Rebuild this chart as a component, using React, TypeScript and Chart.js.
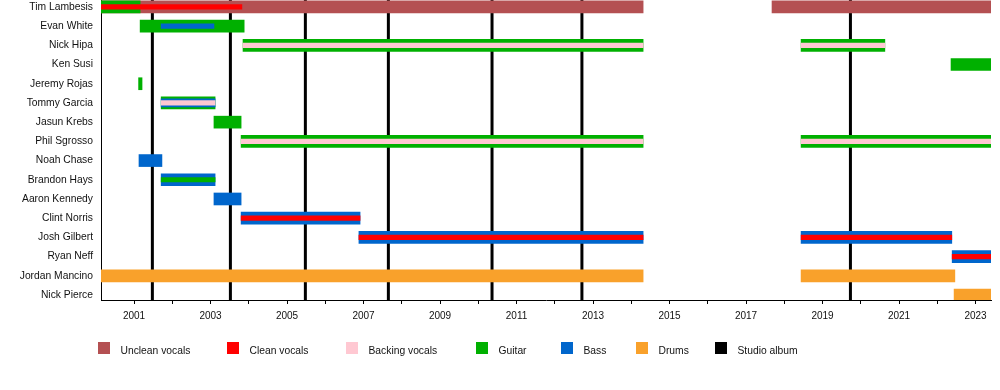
import React, { useEffect, useRef } from "react";
import { Chart, registerables } from "chart.js";

Chart.register(...registerables);

// ---------------- data ----------------
const START = 2000.137;
const END = 2023.405;

const members = [
  "Tim Lambesis",
  "Evan White",
  "Nick Hipa",
  "Ken Susi",
  "Jeremy Rojas",
  "Tommy Garcia",
  "Jasun Krebs",
  "Phil Sgrosso",
  "Noah Chase",
  "Brandon Hays",
  "Aaron Kennedy",
  "Clint Norris",
  "Josh Gilbert",
  "Ryan Neff",
  "Jordan Mancino",
  "Nick Pierce",
];

const roles = ["Unclean vocals", "Clean vocals", "Backing vocals", "Guitar", "Bass", "Drums"];

type Period = [string, string, number, number]; // member, role, from, till

// main (full-width) role bars
const mainRoles: Period[] = [
  ["Tim Lambesis", "Unclean vocals", START, 2014.31],
  ["Tim Lambesis", "Unclean vocals", 2017.68, END],
  ["Tim Lambesis", "Guitar", START, 2001.16],
  ["Evan White", "Guitar", 2001.16, 2003.88],
  ["Nick Hipa", "Guitar", 2003.85, 2014.31],
  ["Nick Hipa", "Guitar", 2018.44, 2020.63],
  ["Ken Susi", "Guitar", 2022.36, END],
  ["Jeremy Rojas", "Guitar", 2001.12, 2001.21],
  ["Tommy Garcia", "Guitar", 2001.71, 2003.12],
  ["Jasun Krebs", "Guitar", 2003.09, 2003.8],
  ["Phil Sgrosso", "Guitar", 2003.8, 2014.31],
  ["Phil Sgrosso", "Guitar", 2018.44, END],
  ["Noah Chase", "Bass", 2001.13, 2001.73],
  ["Brandon Hays", "Bass", 2001.71, 2003.12],
  ["Aaron Kennedy", "Bass", 2003.09, 2003.8],
  ["Clint Norris", "Bass", 2003.8, 2006.91],
  ["Josh Gilbert", "Bass", 2006.88, 2014.31],
  ["Josh Gilbert", "Bass", 2018.44, 2022.38],
  ["Ryan Neff", "Bass", 2022.39, END],
  ["Jordan Mancino", "Drums", START, 2014.31],
  ["Jordan Mancino", "Drums", 2018.44, 2022.46],
  ["Nick Pierce", "Drums", 2022.44, END],
];

// second-level role bars
const secondRoles: Period[] = [["Tommy Garcia", "Bass", 2001.71, 2003.12]];

// inner (thin) role bars
const innerRoles: Period[] = [
  ["Tim Lambesis", "Clean vocals", START, 2003.82],
  ["Evan White", "Bass", 2001.71, 2003.09],
  ["Nick Hipa", "Backing vocals", 2003.85, 2014.31],
  ["Nick Hipa", "Backing vocals", 2018.44, 2020.63],
  ["Tommy Garcia", "Backing vocals", 2001.71, 2003.12],
  ["Phil Sgrosso", "Backing vocals", 2003.8, 2014.31],
  ["Phil Sgrosso", "Backing vocals", 2018.44, END],
  ["Brandon Hays", "Guitar", 2001.71, 2003.12],
  ["Clint Norris", "Clean vocals", 2003.8, 2006.91],
  ["Josh Gilbert", "Clean vocals", 2006.88, 2014.31],
  ["Josh Gilbert", "Clean vocals", 2018.44, 2022.38],
  ["Ryan Neff", "Clean vocals", 2022.39, END],
];

const studioAlbums = [2001.48, 2003.52, 2005.48, 2007.65, 2010.36, 2012.71, 2019.73];

const labelledYears = [2001, 2003, 2005, 2007, 2009, 2011, 2013, 2015, 2017, 2019, 2021, 2023];

const legendLabels = [...roles, "Studio album"];

// ---------------- styles ----------------
const roleColors: Record<string, string> = {
  "Unclean vocals": "#B45052",
  "Clean vocals": "#FF0000",
  "Backing vocals": "#FFC8D2",
  Guitar: "#00B000",
  Bass: "#0066CC",
  Drums: "#F9A12B",
  "Studio album": "#000000",
};

const FONT = "'Liberation Sans', Arial, sans-serif";
const LEGEND_X = [98, 227, 346, 476, 561, 636, 715];
const LEGEND_Y = 342;

const layers = [
  { periods: mainRoles, thickness: 12, order: 20 },
  { periods: secondRoles, thickness: 8, order: 10 },
  { periods: innerRoles, thickness: 4.5, order: 0 },
];

function buildDatasets() {
  const ds: any[] = [];
  layers.forEach((layer) => {
    roles.forEach((role) => {
      const ps = layer.periods.filter((p) => p[1] === role);
      if (!ps.length) return;
      ds.push({
        label: role,
        data: ps.map((p) => ({ x: [p[2], p[3]], y: members.indexOf(p[0]) })),
        backgroundColor: roleColors[role],
        borderWidth: 0,
        barThickness: layer.thickness,
        grouped: false,
        order: layer.order + (role === "Unclean vocals" ? 5 : 0),
      });
    });
  });
  return ds;
}

const albumLinesPlugin = {
  id: "albumLines",
  beforeDatasetsDraw(chart: any) {
    const { ctx, chartArea, scales } = chart;
    ctx.save();
    ctx.beginPath();
    ctx.rect(chartArea.left, chartArea.top, chartArea.right - chartArea.left, chartArea.bottom - chartArea.top);
    ctx.clip();
    ctx.strokeStyle = roleColors["Studio album"];
    ctx.lineWidth = 3;
    studioAlbums.forEach((a) => {
      const x = scales.x.getPixelForValue(a);
      ctx.beginPath();
      ctx.moveTo(x, chartArea.top);
      ctx.lineTo(x, chartArea.bottom);
      ctx.stroke();
    });
    ctx.restore();
  },
};

const legendPlugin = {
  id: "customLegend",
  afterDraw(chart: any) {
    const { ctx } = chart;
    ctx.save();
    ctx.font = `10.3px ${FONT}`;
    ctx.textBaseline = "alphabetic";
    ctx.textAlign = "left";
    legendLabels.forEach((label, i) => {
      const x = LEGEND_X[i];
      ctx.fillStyle = roleColors[label];
      ctx.fillRect(x, LEGEND_Y, 12, 12);
      ctx.fillStyle = "#111";
      ctx.fillText(label, x + 22.5, LEGEND_Y + 12);
    });
    ctx.restore();
  },
};

export default function App() {
  const ref = useRef<HTMLCanvasElement | null>(null);

  useEffect(() => {
    if (!ref.current) return;
    Chart.defaults.font.family = FONT;
    Chart.defaults.font.size = 10;
    Chart.defaults.color = "#111";
    const chart = new Chart(ref.current, {
      type: "bar",
      data: { datasets: buildDatasets() },
      options: {
        indexAxis: "y",
        animation: false,
        responsive: false,
        events: [],
        layout: { padding: { left: 0, right: 9, top: 0, bottom: 60 } },
        plugins: { legend: { display: false }, tooltip: { enabled: false } },
        scales: {
          x: {
            type: "linear",
            position: "bottom",
            min: START,
            max: END,
            offset: false,
            grid: { drawOnChartArea: false, drawTicks: true, tickLength: 4, color: "#000", lineWidth: 1, offset: false },
            border: { display: true, color: "#000", width: 1 },
            ticks: {
              stepSize: 1,
              autoSkip: false,
              maxRotation: 0,
              minRotation: 0,
              includeBounds: false,
              padding: 6,
              color: "#111",
              font: { size: 10, family: FONT },
              callback: (v: any) => (labelledYears.includes(Math.round(v)) ? String(Math.round(v)) : ""),
            },
            afterFit: (s: any) => {
              s.height = 30;
              s.paddingLeft = 0;
              s.paddingRight = 0;
            },
          },
          y: {
            type: "linear",
            reverse: true,
            min: -0.36,
            max: 15.26,
            offset: false,
            grid: { drawOnChartArea: false, drawTicks: false, offset: false },
            border: { display: true, color: "#000", width: 1 },
            ticks: {
              stepSize: 1,
              autoSkip: false,
              includeBounds: false,
              padding: 8,
              color: "#111",
              font: { size: 10.3, family: FONT },
              callback: (v: any) => (Number.isInteger(v) && members[v] ? members[v] : ""),
            },
            afterFit: (s: any) => {
              s.width = 101;
              s.paddingTop = 0;
              s.paddingBottom = 0;
            },
          },
        },
      } as any,
      plugins: [albumLinesPlugin, legendPlugin],
    });
    return () => chart.destroy();
  }, []);

  return (
    <div style={{ position: "absolute", left: 0, top: 0, width: 1000, height: 390, background: "#fff" }}>
      <canvas ref={ref} width={1000} height={390} style={{ display: "block" }} />
    </div>
  );
}
